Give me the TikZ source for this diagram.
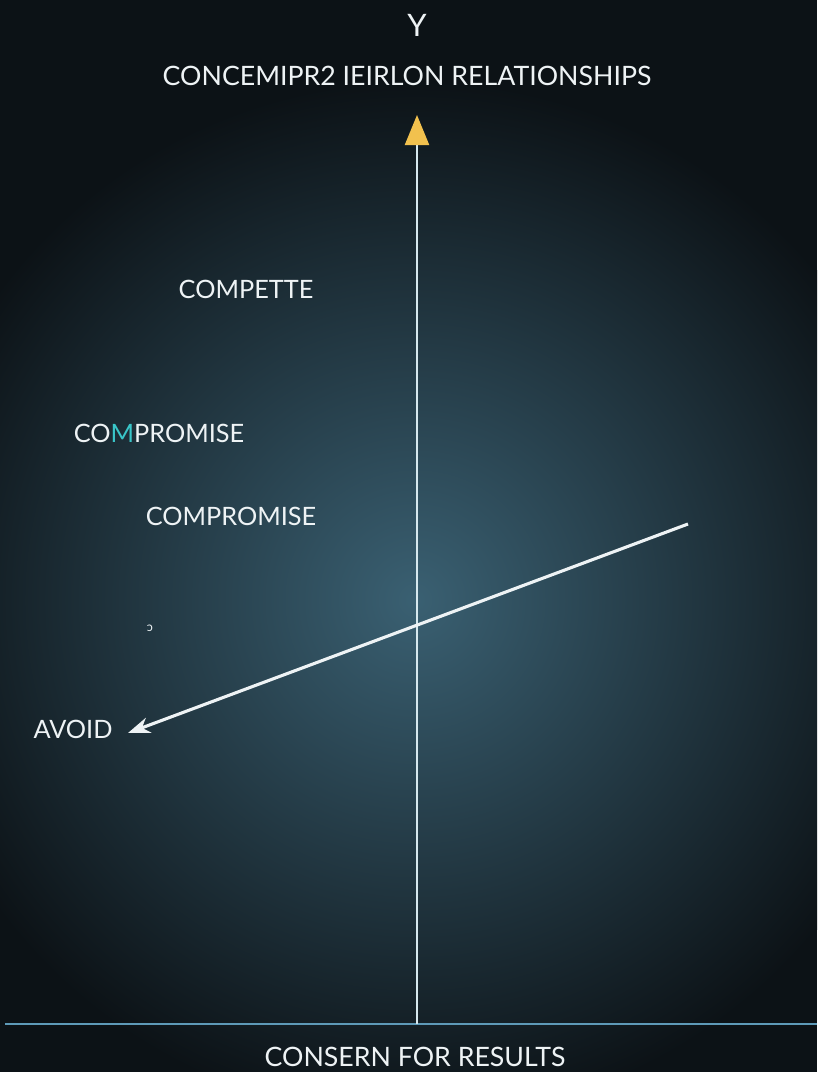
\documentclass[tikz,border=0pt]{standalone}
\usepackage{fontspec}
\setmainfont{Lato}
\usepackage{xcolor}
\usetikzlibrary{arrows.meta, positioning}
\definecolor{bgdark}{HTML}{0C1216}
\definecolor{bgglow}{HTML}{3A6072}
\definecolor{axisline}{HTML}{D6E8EE}
\definecolor{baseline}{HTML}{5E9AB8}
\definecolor{tipyellow}{HTML}{F2C14E}
\definecolor{accentcyan}{HTML}{39C6C9}
\definecolor{labelwhite}{HTML}{EEF3F5}

\begin{document}
\begin{tikzpicture}[
    x=0.025cm, y=-0.025cm,
    every node/.style={font=\fontsize{18}{20}\selectfont, text=labelwhite, inner sep=0pt},
    title/.style={font=\fontsize{19}{21}\selectfont},
    style label/.style={font=\fontsize{18}{20}\selectfont},
    yaxis/.style={-{Triangle[length=0.75cm, width=0.6cm, color=tipyellow]}, line width=1.6pt, draw=axisline},
    xaxis/.style={line width=1.1pt, draw=baseline},
    diag/.style={-{Stealth[length=0.55cm, width=0.4cm]}, line width=2.2pt, draw=labelwhite}
]

% Background with glow
\useasboundingbox (0,0) rectangle (817,1072);
\fill[bgdark] (0,0) rectangle (817,1072);
\begin{scope}
  \clip (0,0) rectangle (817,1072);
  \shade[inner color=bgglow, outer color=bgdark] (415,600) circle (520);
\end{scope}

% Title
\node (ylabel) at (417,25) {\fontsize{22}{24}\selectfont Y};
\node[title] (ytitle) at (407,76) {CONCEMIPR2 IEIRLON RELATIONSHIPS};

% Axes
\coordinate (ybase) at (417,1024);
\coordinate (ytop) at (417,115);
\coordinate (xleft) at (5,1024);
\coordinate (xright) at (817,1024);
\draw[xaxis] (xleft) -- (xright);
\draw[yaxis] (ybase) -- (ytop);

% Diagonal line
\coordinate (diagR) at (688,524);
\coordinate (diagL) at (128,733);
\draw[diag] (diagR) -- (diagL);

% Style labels
\node[style label] (compete) at (246,289) {COMPETTE};
\node[style label] (compromA) at (159,433) {CO\textcolor{accentcyan}{M}PROMISE};
\node[style label] (compromB) at (231,516) {COMPROMISE};
\node[style label, font=\fontsize{9}{9}\selectfont] (mark) at (150,628) {ↄ};
\node[style label] (avoid) at (73,729) {AVOID};

% X label
\node[title] (xtitle) at (415,1057) {CONSERN FOR RESULTS};

\end{tikzpicture}
\end{document}
